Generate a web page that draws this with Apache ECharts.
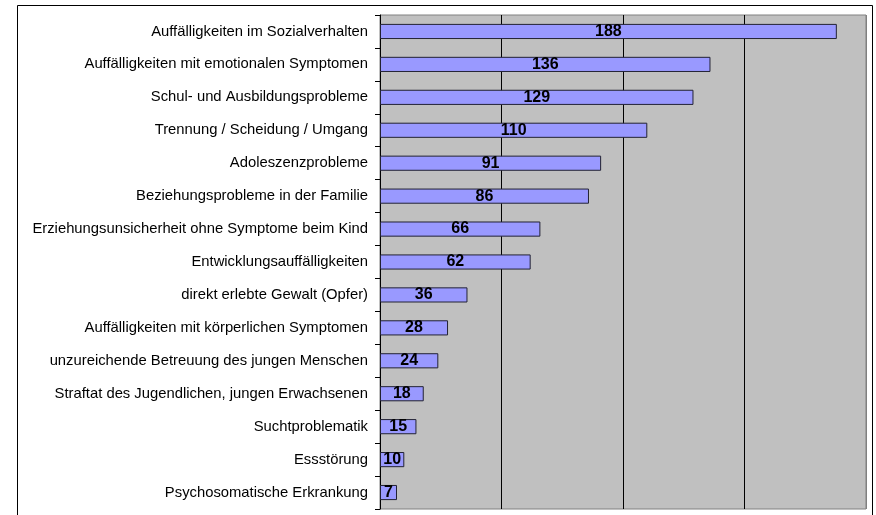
<!DOCTYPE html>
<html><head><meta charset="utf-8">
<script src="https://cdn.jsdelivr.net/npm/echarts@6/dist/echarts.min.js"></script>
<style>html,body{margin:0;padding:0;background:#fff}#c{width:876px;height:515px}</style>
</head><body><div id="c"></div>
<script>
const categories = [
  "Auffälligkeiten im Sozialverhalten",
  "Auffälligkeiten mit emotionalen Symptomen",
  "Schul- und Ausbildungsprobleme",
  "Trennung / Scheidung / Umgang",
  "Adoleszenzprobleme",
  "Beziehungsprobleme in der Familie",
  "Erziehungsunsicherheit ohne Symptome beim Kind",
  "Entwicklungsauffälligkeiten",
  "direkt erlebte Gewalt (Opfer)",
  "Auffälligkeiten mit körperlichen Symptomen",
  "unzureichende Betreuung des jungen Menschen",
  "Straftat des Jugendlichen, jungen Erwachsenen",
  "Suchtproblematik",
  "Essstörung",
  "Psychosomatische Erkrankung"
];
const values = [188, 136, 129, 110, 91, 86, 66, 62, 36, 28, 24, 18, 15, 10, 7];

const chart = echarts.init(document.getElementById('c'), null, {renderer: 'canvas'});
chart.setOption({
  animation: false,
  backgroundColor: '#fff',
  graphic: [{
    type: 'rect', shape: {x: 17.5, y: 5.5, width: 855, height: 600},
    style: {fill: 'none', stroke: '#000', lineWidth: 1}, z: -1
  }],
  grid: {left: 380, top: 15, width: 486, height: 494, show: true,
         backgroundColor: '#C0C0C0', borderColor: '#808080', borderWidth: 1},
  xAxis: {
    type: 'value', min: 0, max: 200, interval: 50,
    axisLabel: {show: false}, axisLine: {show: false}, axisTick: {show: false},
    splitLine: {show: true, lineStyle: {color: ['#000', '#000', '#000', '#000', '#808080'], width: 1}}
  },
  yAxis: {
    type: 'category', data: categories, inverse: true,
    axisLine: {show: true, lineStyle: {color: '#000', width: 1}},
    axisTick: {show: true, length: 5, lineStyle: {color: '#000'}},
    axisLabel: {color: '#000', fontFamily: 'Liberation Sans, Arial, sans-serif', fontSize: 14.8, margin: 12}
  },
  series: [{
    type: 'bar', data: values, barWidth: '46%',
    itemStyle: {color: '#9999FF', borderColor: '#222233', borderWidth: 1},
    label: {show: true, position: 'inside', color: '#000', fontWeight: 'bold',
            fontFamily: 'Liberation Sans, Arial, sans-serif', fontSize: 16}
  }]
});
</script></body></html>
